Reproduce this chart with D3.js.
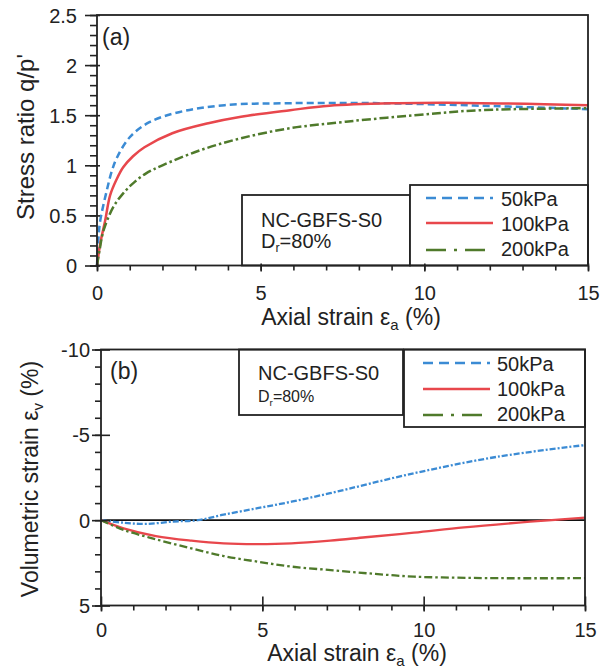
<!DOCTYPE html>
<html>
<head>
<meta charset="utf-8">
<script src="https://cdn.jsdelivr.net/npm/d3@7"></script>
<style>
  body { margin: 0; background: #fff; }
  svg { display: block; }
  text { font-family: "Liberation Sans", Arial, Helvetica, sans-serif; fill: #222; }
</style>
</head>
<body>
<svg id="chart" width="611" height="669"></svg>
<script>
// Confining pressures
const pressures = ["50kPa", "100kPa", "200kPa"];

// (a) stress ratio q/p' against axial strain (%)
const strainA50  = [0, 0.05, 0.1, 0.3, 0.45, 0.6, 1.0, 1.6, 2.5, 3.9, 5.9, 8.6, 11.7, 15];
const ratioA50   = [0, 0.30, 0.45, 0.75, 0.94, 1.07, 1.28, 1.43, 1.53, 1.60, 1.62, 1.62, 1.595, 1.56];
const strainA100 = [0, 0.1, 0.25, 0.4, 0.6, 0.8, 1.1, 1.45, 2.3, 3.4, 4.4, 5.9, 7.1, 9.2, 10.7, 15];
const ratioA100  = [0, 0.22, 0.45, 0.70, 0.86, 0.98, 1.09, 1.18, 1.32, 1.42, 1.485, 1.55, 1.595, 1.62, 1.625, 1.60];
const strainA200 = [0, 0.08, 0.2, 0.5, 0.8, 1.1, 1.5, 2.0, 3.15, 4.4, 5.9, 7.6, 9.7, 11.7, 15];
const ratioA200  = [0, 0.155, 0.35, 0.585, 0.72, 0.82, 0.92, 1.0, 1.15, 1.27, 1.37, 1.435, 1.50, 1.55, 1.57];

// (b) volumetric strain (%) against axial strain (%)
const strainB50  = [0, 0.7, 1.4, 2.25, 3.0, 3.8, 4.85, 5.9, 7.1, 9.7, 12.3, 15];
const volB50     = [0, 0.15, 0.22, 0.08, 0, -0.32, -0.70, -1.08, -1.58, -2.75, -3.72, -4.40];
const strainB100 = [0, 0.7, 1.7, 2.8, 3.8, 4.85, 5.9, 7.1, 8.2, 9.7, 11.25, 13.3, 15];
const volB100    = [0, 0.48, 0.93, 1.2, 1.36, 1.40, 1.36, 1.2, 1.0, 0.73, 0.42, 0.09, -0.15];
const strainB200 = [0, 0.7, 1.7, 2.8, 3.8, 4.85, 5.9, 7.2, 8.5, 9.7, 11, 12.3, 15];
const volB200    = [0, 0.57, 1.12, 1.65, 2.1, 2.43, 2.72, 2.94, 3.15, 3.31, 3.37, 3.40, 3.40];

// Tick labels
const xTicks   = [0, 5, 10, 15];
const yTicksA  = [0, 0.5, 1, 1.5, 2, 2.5];
const yTicksB  = [-10, -5, 0, 5];

const colors = ["#3b8bd4", "#e8474c", "#4f7a2b"];
const axisColor = "#222";

const svg = d3.select("#chart");
const zip = (xs, ys) => xs.map((v, i) => [v, ys[i]]);

function frame(x, y) {
  const [x0, x1] = x.range(), [y0, y1] = y.range();
  svg.append("rect")
    .attr("x", x0).attr("y", Math.min(y0, y1))
    .attr("width", x1 - x0).attr("height", Math.abs(y0 - y1))
    .attr("fill", "none").attr("stroke", axisColor).attr("stroke-width", 1.8);
}

function styleAxis(g) {
  g.select(".domain").remove();
  g.selectAll("line").attr("stroke", axisColor).attr("stroke-width", 1.6);
  g.selectAll("text").style("font-size", "20px").attr("fill", "#222");
}

function drawPanel(x, y, o) {
  const left = x.range()[0];
  const bottom = Math.max(...y.range());
  // minor y ticks
  svg.append("g").attr("transform", `translate(${left},0)`)
    .call(d3.axisLeft(y).tickValues(o.yMinor).tickSize(o.yMinorLen).tickFormat(""))
    .call(styleAxis);
  // major y ticks with labels
  svg.append("g").attr("transform", `translate(${left},0)`)
    .call(d3.axisLeft(y).tickValues(o.yMajor).tickSize(o.yMajorOut).tickFormat(d => String(d)))
    .call(styleAxis)
    .call(g => g.selectAll("line").attr("x1", o.yMajorIn))
    .call(g => g.selectAll("text").attr("x", -o.yLabelGap).attr("dy", "0.35em"));
  // minor x ticks
  svg.append("g").attr("transform", `translate(0,${bottom})`)
    .call(d3.axisBottom(x).tickValues(d3.range(0, 15.01, 1)).tickSize(5).tickFormat(""))
    .call(styleAxis);
  // major x ticks with labels
  svg.append("g").attr("transform", `translate(0,${bottom})`)
    .call(d3.axisBottom(x).tickValues(xTicks).tickSize(6).tickFormat(d => String(d)))
    .call(styleAxis)
    .call(g => g.selectAll("line").attr("y1", -o.xMajorIn))
    .call(g => g.selectAll("text").attr("y", o.xLabelGap).attr("dy", "0.71em"));
  frame(x, y);
}

function axialTitle(cx, baseline) {
  const t = svg.append("text").attr("x", cx).attr("y", baseline)
    .attr("text-anchor", "middle").style("font-size", "23px");
  t.append("tspan").text("Axial strain ε");
  t.append("tspan").attr("dy", 5).style("font-size", "15px").text("a");
  t.append("tspan").attr("dy", -5).text(" (%)");
}

function drawLegend(box, rows, dashes) {
  svg.append("rect").attr("x", box.x).attr("y", box.y).attr("width", box.w).attr("height", box.h)
    .attr("fill", "#fff").attr("stroke", axisColor).attr("stroke-width", 1.8);
  pressures.forEach((p, i) => {
    svg.append("line")
      .attr("x1", rows.lx1).attr("x2", rows.lx2)
      .attr("y1", rows.ly[i]).attr("y2", rows.ly[i])
      .attr("stroke", colors[i]).attr("stroke-width", 2.5)
      .attr("stroke-dasharray", dashes[i]);
    svg.append("text").attr("x", rows.tx).attr("y", rows.ty[i])
      .style("font-size", "20px").text(p);
  });
}

function drawInfo(box, tx, base1, base2, size2) {
  svg.append("rect").attr("x", box.x).attr("y", box.y).attr("width", box.w).attr("height", box.h)
    .attr("fill", "#fff").attr("stroke", axisColor).attr("stroke-width", 1.8);
  svg.append("text").attr("x", tx).attr("y", base1).style("font-size", "20px").text("NC-GBFS-S0");
  const t = svg.append("text").attr("x", tx).attr("y", base2).style("font-size", size2 + "px");
  t.append("tspan").text("D");
  t.append("tspan").attr("dy", 4).style("font-size", (size2 * 0.62) + "px").text("r");
  t.append("tspan").attr("dy", -4).text("=80%");
}

const smooth = d3.curveCatmullRom.alpha(0.5);

// ---------- panel (a) ----------
const xA = d3.scaleLinear().domain([0, 15]).range([97, 588]);
const yA = d3.scaleLinear().domain([0, 2.5]).range([265.5, 15]);

const lineA = d3.line().x(d => xA(d[0])).y(d => yA(d[1])).curve(smooth);
const seriesA = [zip(strainA50, ratioA50), zip(strainA100, ratioA100), zip(strainA200, ratioA200)];
const dashA = ["7,4", null, "9,3,2.5,3"];

drawInfo({x: 242, y: 195, w: 168, h: 70.5}, 261, 227, 248, 20);
drawLegend({x: 410, y: 185, w: 178, h: 80.5},
  {lx1: 426, lx2: 493, ly: [198, 223, 250], tx: 501, ty: [206, 231, 256]},
  ["10,6", null, "20,8,3,8"]);

seriesA.forEach((s, i) => {
  svg.append("path").datum(s).attr("d", lineA)
    .attr("fill", "none").attr("stroke", colors[i]).attr("stroke-width", 2.5)
    .attr("stroke-dasharray", dashA[i]);
});

drawPanel(xA, yA, {
  yMinor: d3.range(0, 2.501, 0.1), yMinorLen: 7,
  yMajor: yTicksA, yMajorOut: 12, yMajorIn: 3, yLabelGap: 20,
  xMajorIn: 2, xLabelGap: 20
});

svg.append("text").attr("x", 102).attr("y", 45).style("font-size", "23px").text("(a)");
svg.append("text").attr("transform", "translate(34,137) rotate(-90)")
  .attr("text-anchor", "middle").style("font-size", "24px").text("Stress ratio q/p'");
axialTitle(351, 325);

// ---------- panel (b) ----------
const xB = d3.scaleLinear().domain([0, 15]).range([101, 585]);
const yB = d3.scaleLinear().domain([-10, 5]).range([349.5, 605.5]);

// zero line
svg.append("line").attr("x1", xB(0)).attr("x2", xB(15)).attr("y1", yB(0)).attr("y2", yB(0))
  .attr("stroke", "#111").attr("stroke-width", 1.6);

const lineB = d3.line().x(d => xB(d[0])).y(d => yB(d[1])).curve(smooth);
const seriesB = [zip(strainB50, volB50), zip(strainB100, volB100), zip(strainB200, volB200)];
const dashB = ["6,2,2,2", null, "8,3,2.5,3"];

seriesB.forEach((s, i) => {
  svg.append("path").datum(s).attr("d", lineB)
    .attr("fill", "none").attr("stroke", colors[i]).attr("stroke-width", 2.3)
    .attr("stroke-dasharray", dashB[i]);
});

drawInfo({x: 239, y: 349.5, w: 164, h: 65.5}, 258, 380, 402, 16);
drawLegend({x: 404, y: 349.5, w: 181, h: 77.5},
  {lx1: 423, lx2: 490, ly: [363, 389, 415], tx: 497, ty: [371, 396, 421]},
  ["10,6", null, "20,8,3,8"]);

drawPanel(xB, yB, {
  yMinor: d3.range(-10, 5.01, 1), yMinorLen: 6,
  yMajor: yTicksB, yMajorOut: 9, yMajorIn: 9, yLabelGap: 11,
  xMajorIn: 9, xLabelGap: 17.5
});

svg.append("text").attr("x", 110).attr("y", 379).style("font-size", "23px").text("(b)");
const vt = svg.append("text").attr("transform", "translate(38,479) rotate(-90)")
  .attr("text-anchor", "middle").style("font-size", "23px");
vt.append("tspan").text("Volumetric strain ε");
vt.append("tspan").attr("dy", 5).style("font-size", "15px").text("v");
vt.append("tspan").attr("dy", -5).text(" (%)");
axialTitle(357, 661);
</script>
</body>
</html>
